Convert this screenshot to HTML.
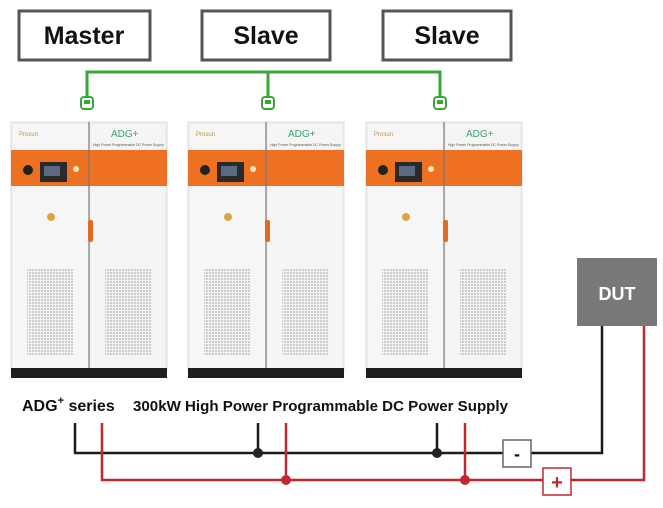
<!DOCTYPE html>
<html><head><style>
body{margin:0;background:#fff;width:663px;height:503px;overflow:hidden;font-family:"Liberation Sans",sans-serif}
</style></head><body>
<svg width="663" height="503" viewBox="0 0 663 503" xmlns="http://www.w3.org/2000/svg">
<defs>
<pattern id="vent" width="3" height="3" patternUnits="userSpaceOnUse">
<rect width="3" height="3" fill="#f4f4f4"/><rect width="2" height="2" fill="#cccccc"/>
</pattern>
<g id="cab">
<rect x="0" y="0" width="156" height="248" fill="#efefef" stroke="#dcdcdc"/>
<rect x="2" y="2" width="76" height="244" fill="#f6f6f6"/>
<rect x="80" y="2" width="74" height="244" fill="#f5f5f5"/>
<rect x="0" y="28" width="156" height="36" fill="#ee7123"/>
<line x1="78" y1="0" x2="78" y2="248" stroke="#777" stroke-width="1.2"/>
<rect x="29" y="40" width="27" height="20" fill="#2a2a2a"/>
<rect x="33" y="44" width="16" height="10" fill="#5a6a80"/>
<circle cx="17" cy="48" r="5" fill="#222"/>
<circle cx="65" cy="47" r="3" fill="#f5e6b0"/>
<circle cx="40" cy="95" r="4" fill="#d9a640"/>
<rect x="77" y="98" width="5" height="22" rx="2" fill="#e26a22"/>
<rect x="16" y="146" width="46" height="87" fill="url(#vent)"/>
<rect x="94" y="146" width="46" height="87" fill="url(#vent)"/>
<text x="8" y="14" font-size="6" fill="#c89040">Prosun</text>
<text x="100" y="15" font-size="10" fill="#3aa36b">ADG+</text>
<text x="82" y="24" font-size="3.5" fill="#555">High Power Programmable DC Power Supply</text>
<rect x="0" y="246" width="156" height="10" fill="#1e1e1e"/>
</g>
<g id="conn">
<rect x="-6" y="-5" width="12" height="12" rx="3" fill="#fff" stroke="#3aa53a" stroke-width="2"/>
<rect x="-3" y="-2" width="6" height="4" fill="#3aa53a"/>
</g>
</defs>
<g fill="#fff" stroke="#555" stroke-width="3">
<rect x="19" y="11" width="131" height="49"/>
<rect x="202" y="11" width="128" height="49"/>
<rect x="383" y="11" width="128" height="49"/>
</g>
<g font-size="25" font-weight="bold" text-anchor="middle" fill="#111">
<text x="84" y="44">Master</text>
<text x="266" y="44">Slave</text>
<text x="447" y="44">Slave</text>
</g>
<g stroke="#3aa53a" stroke-width="3" fill="none">
<polyline points="87,100 87,72 440,72 440,100"/>
<line x1="268" y1="72" x2="268" y2="100"/>
</g>
<use href="#cab" x="11" y="122"/>
<use href="#cab" x="188" y="122"/>
<use href="#cab" x="366" y="122"/>
<use href="#conn" x="87" y="102"/>
<use href="#conn" x="268" y="102"/>
<use href="#conn" x="440" y="102"/>
<rect x="577" y="258" width="80" height="68" fill="#787878"/>
<text x="617" y="300" font-size="18" font-weight="bold" fill="#fff" text-anchor="middle">DUT</text>
<text x="22" y="411" font-size="16" font-weight="bold" fill="#111">ADG<tspan font-size="11" dy="-7">+</tspan><tspan dy="7"> series</tspan></text>
<text x="133" y="411" font-size="14.5" font-weight="bold" fill="#111" textLength="375" lengthAdjust="spacingAndGlyphs">300kW High Power Programmable DC Power Supply</text>
<g stroke="#1a1a1a" stroke-width="2.5" fill="none">
<polyline points="75,423 75,453 503,453"/>
<line x1="258" y1="423" x2="258" y2="453"/>
<line x1="437" y1="423" x2="437" y2="453"/>
<polyline points="531,453 602,453 602,326"/>
</g>
<g stroke="#c0282f" stroke-width="2.5" fill="none">
<polyline points="102,423 102,480 543,480"/>
<line x1="286" y1="423" x2="286" y2="480"/>
<line x1="465" y1="423" x2="465" y2="480"/>
<polyline points="571,480 644,480 644,326"/>
</g>
<circle cx="258" cy="453" r="5" fill="#222"/>
<circle cx="437" cy="453" r="5" fill="#222"/>
<circle cx="286" cy="480" r="5" fill="#c0282f"/>
<circle cx="465" cy="480" r="5" fill="#c0282f"/>
<rect x="503" y="440" width="28" height="27" fill="#fff" stroke="#666" stroke-width="1.5"/>
<text x="517" y="460" font-size="18" font-weight="bold" text-anchor="middle" fill="#111">-</text>
<rect x="543" y="468" width="28" height="27" fill="#fff" stroke="#c0282f" stroke-width="1.5"/>
<text x="557" y="489" font-size="20" font-weight="bold" text-anchor="middle" fill="#c0282f">+</text>
</svg>
</body></html>
